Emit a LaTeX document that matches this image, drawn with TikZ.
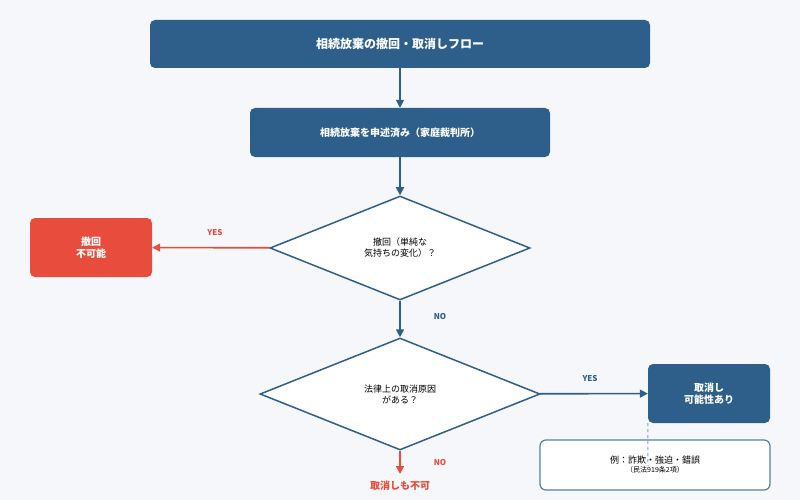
\documentclass[tikz,border=0pt]{standalone}
\usepackage{fontspec}
\setmainfont{Noto Sans CJK JP}
\usetikzlibrary{shapes.geometric,arrows.meta}
\definecolor{bg}{HTML}{F5F7FA}
\definecolor{navy}{HTML}{2D5F8A}
\definecolor{red}{HTML}{E74C3C}
\begin{document}
\begin{tikzpicture}[x=1pt,y=-1pt,
 box/.style={draw=none,fill=navy,rounded corners=5pt,text=white,font=\bfseries,align=center,inner sep=0},
 dia/.style={draw=navy,line width=1.5pt,fill=white,diamond,inner sep=0,minimum width=#1,align=center,font=\small},
 arr/.style={draw=navy,line width=1.6pt,-{Triangle[length=8pt,width=8pt]}},
 lab/.style={font=\footnotesize\bfseries}]
\fill[bg] (0,0) rectangle (800,500);
\useasboundingbox (0,0) rectangle (800,500);
\node[box,minimum width=500,minimum height=48,font=\large\bfseries] (t) at (400,44) {相続放棄の撤回・取消しフロー};
\node[box,minimum width=300,minimum height=49,font=\normalsize\bfseries] (s) at (400,132.5) {相続放棄を申述済み（家庭裁判所）};
\node[draw=navy,line width=1.5pt,fill=white,diamond,aspect=2.5,minimum width=260,minimum height=104,inner sep=0,align=center,font=\small] (d1) at (400,248) {撤回（単純な\\気持ちの変化）？};
\node[draw=navy,line width=1.5pt,fill=white,diamond,aspect=2.5,minimum width=280,minimum height=112,inner sep=0,align=center,font=\small] (d2) at (400,394) {法律上の取消原因\\がある？};
\node[box,fill=red,minimum width=122,minimum height=59] (r) at (91,247.5) {撤回\\不可能};
\node[box,minimum width=122,minimum height=59] (ok) at (709,393.5) {取消し\\可能性あり};
\node[draw=navy!80,line width=1.2pt,fill=white,rounded corners=6pt,minimum width=230,minimum height=50,inner sep=0,align=center] (n) at (655,465) {\small 例：詐欺・強迫・錯誤\\[-3pt]{\scriptsize （民法919条2項）}};
\coordinate (nd) at (648,466);
\draw[navy!60,dashed,line width=1pt] (ok.south west) ++(0,0) -- (nd);
\draw[arr] (t) -- (s);
\draw[arr] (s) -- (d1);
\draw[arr] (d1) -- (d2);
\draw[arr,draw=red] (d1) -- (r);
\draw[arr] (d2) -- (ok);
\coordinate (end) at (400,474);
\draw[arr,draw=red] (d2.south) -- (end);
\node[lab,text=red] at (215,233) {YES};
\node[lab,text=navy] at (440,317) {NO};
\node[lab,text=navy] at (590,379) {YES};
\node[lab,text=red] at (440,463) {NO};
\node[font=\bfseries,text=red] (f) at (400,486) {取消しも不可};
\end{tikzpicture}
\end{document}
